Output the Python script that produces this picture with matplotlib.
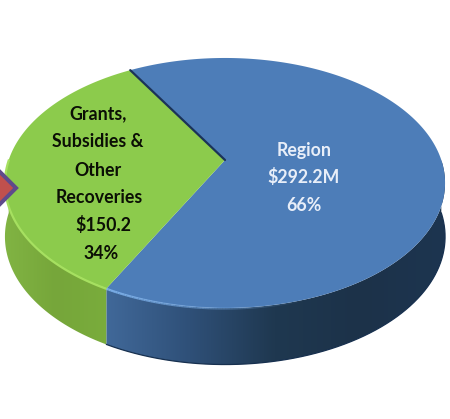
import numpy as np
import matplotlib
matplotlib.use("Agg")
import matplotlib.pyplot as plt
from matplotlib.collections import LineCollection
from matplotlib.colors import LinearSegmentedColormap, to_rgb
from matplotlib.patches import Polygon

categories = ["Grants, Subsidies & Other Recoveries", "Region"]
values = [150.2, 292.2]
percents = ["34%", "66%"]
slice_colors = ["#8ccb4c", "#4d7db8"]
first_slice_start_deg = 120.5

fig = plt.figure(figsize=(4.5, 4.19), dpi=100)
ax = fig.add_axes([0, 0, 1, 1])
ax.axis("off")

# Perspective projection of the pie disc onto the page
CX, CY, BX, AY, K = 225.0, 160.0, 216.3, 120.8, 0.184
def project(deg):
    t = np.radians(deg)
    u, v = np.cos(t), np.sin(t)
    w = 1 + K * v
    return CX + BX * u / w, CY - AY * v / w

def side_depth(deg):
    v = np.sin(np.radians(deg))
    return 53 + 3.5 * np.clip(-v, 0, 1)

shares = np.array(values) / sum(values) * 360
a0 = first_slice_start_deg
a1 = a0 + shares[0]
a2 = a0 + 360

def side_patch(start, end, cmap_stops, xr):
    degs = np.linspace(start, end, 200)
    x, y = project(degs)
    d = side_depth(degs)
    verts = np.r_[np.c_[x, y], np.c_[x[::-1], (y + d)[::-1]]]
    patch = Polygon(verts, closed=True, fc="none", ec="none")
    ax.add_patch(patch)
    cmap = LinearSegmentedColormap.from_list("side", cmap_stops)
    img = ax.imshow(np.linspace(0, 1, 256)[None, :], cmap=cmap, aspect="auto",
                    extent=[xr[0], xr[1], 419, 0], zorder=1, interpolation="bilinear")
    img.set_clip_path(patch)

# Visible rim of both slices (front half of the disc only)
side_patch(180, a1, ["#82b544", "#76a63a", "#7aad3c"], (0, 112))
side_patch(a1, 360, ["#41699a", "#2f5078", "#1f3850", "#1c3249", "#1d3550"], (104, 445))
ax.set_xlim(0, 450)
ax.set_ylim(419, 0)

# Darker line along the lower edge of the blue rim
degs = np.linspace(a1, 360, 200)
x, y = project(degs)
ax.plot(x, y + side_depth(degs), color="#17304f", lw=0.9, zorder=1.5)

# Top faces
def wedge(start, end, color):
    x, y = project(np.linspace(start, end, 240))
    ax.add_patch(Polygon(np.r_[[[CX, CY]], np.c_[x, y]], closed=True, fc=color, ec="none", zorder=2))

wedge(a1, a2, slice_colors[1])
wedge(a0, a1, slice_colors[0])

# Dark seam on the upper divider and pale highlights on the rim
px, py = project(np.array([a0]))
ax.plot([px[0], CX], [py[0], CY], color="#1b3358", lw=1.6, zorder=3, solid_capstyle="round")

def fading_rim(start, end, color, lw):
    degs = np.linspace(start, end, 80)
    x, y = project(degs)
    pts = np.c_[x, y + 0.5]
    segs = np.stack([pts[:-1], pts[1:]], axis=1)
    alpha = np.linspace(1, 0, len(segs))
    ax.add_collection(LineCollection(segs, colors=[(*to_rgb(color), a) for a in alpha],
                                     linewidths=lw, zorder=3))

x, y = project(np.linspace(180, a1, 120))
ax.plot(x, y + 0.5, color="#a6e060", lw=1.6, zorder=3)
fading_rim(a1, a1 + 45, "#7aaee8", 1.6)

# Arrow marker cut off at the left edge
ax.add_patch(Polygon([[16, 188], [-6, 166], [-28, 188], [-6, 210]], closed=True,
                     fc="#c0504d", ec="#5f4a8b", lw=2.9, zorder=4, joinstyle="miter"))

font = ["Lato", "DejaVu Sans"]
left_lines = ["Grants,", "Subsidies &", "Other", "Recoveries", f"${values[0]:.1f}", percents[0]]
left_x = [98, 98, 98, 99, 103, 101]
left_y = [114, 141, 170, 197, 225, 253]
for s, lx, ly in zip(left_lines, left_x, left_y):
    ax.text(lx, ly, s, ha="center", va="center", family=font, weight="bold",
            fontsize=12.8, color="#0b0f05", zorder=5)
right_lines = [categories[1], f"${values[1]:.1f}M", percents[1]]
right_y = [150, 177, 205]
for s, ly in zip(right_lines, right_y):
    ax.text(304, ly, s, ha="center", va="center", family=font, weight="bold",
            fontsize=12.8, color="#e8eef8", zorder=5)

fig.savefig("out.png", dpi=100, facecolor="white")
